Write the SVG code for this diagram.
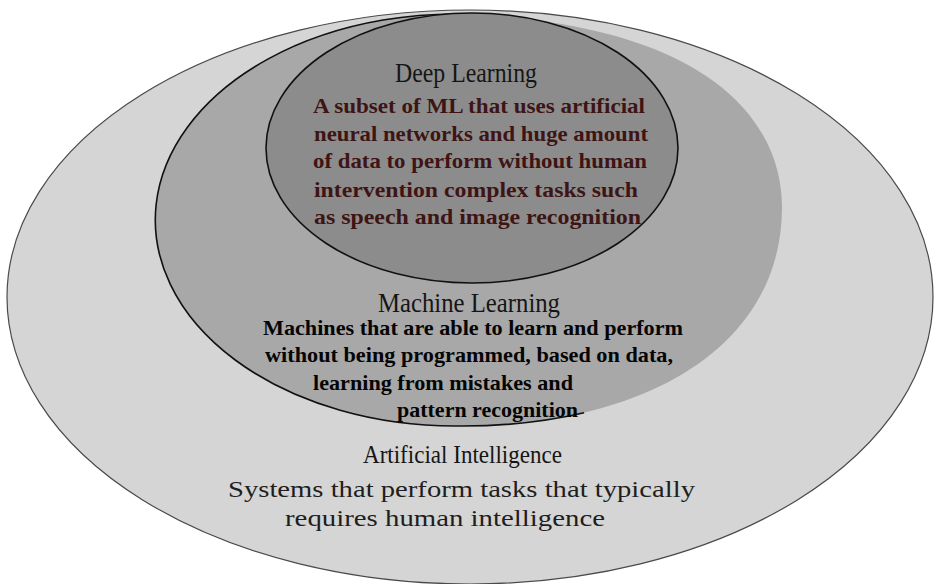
<svg xmlns="http://www.w3.org/2000/svg" width="936" height="584" viewBox="0 0 936 584">
  <style>
    .title { font-family: "Liberation Serif", "Times New Roman", serif; fill: #151515; }
    .dl-body { font-family: "Liberation Serif", "Times New Roman", serif; font-weight: bold; font-size: 22px; fill: #3e1414; }
    .ml-body { font-family: "Liberation Serif", "Times New Roman", serif; font-weight: bold; font-size: 22px; fill: #050505; }
    .ai-body { font-family: "Liberation Serif", "Times New Roman", serif; font-size: 24px; fill: #1e1e1e; }
  </style>
  <rect width="936" height="584" fill="#ffffff"/>

  <!-- Artificial Intelligence: outer ellipse -->
  <g id="ai">
    <ellipse cx="470" cy="297" rx="463" ry="287" fill="#d5d5d5" stroke="#4a4a4a" stroke-width="1.2"/>
    <text class="title" x="363" y="463" font-size="26" textLength="199" lengthAdjust="spacingAndGlyphs">Artificial Intelligence</text>
    <text class="ai-body" x="228" y="497" textLength="467" lengthAdjust="spacingAndGlyphs">Systems that perform tasks that typically</text>
    <text class="ai-body" x="285" y="526" textLength="320" lengthAdjust="spacingAndGlyphs">requires human intelligence</text>
  </g>

  <!-- Machine Learning: shaded region with outline on its left side -->
  <g id="ml">
    <path d="M455,14 A300,206 0 1 0 455,426 C640,428 782,350 782,207 C782,125 715,22 455,14 Z" fill="#a8a8a8"/>
    <path d="M500,16.3 A300,206 0 1 0 455,426 C501.25,426.5 544.8,422 584.1,412.8" fill="none" stroke="#111111" stroke-width="1.6"/>
    <text class="title" x="378" y="312" font-size="28" textLength="182" lengthAdjust="spacingAndGlyphs">Machine Learning</text>
    <text class="ml-body" x="263" y="335" textLength="420" lengthAdjust="spacingAndGlyphs">Machines that are able to learn and perform</text>
    <text class="ml-body" x="265" y="362" textLength="408" lengthAdjust="spacingAndGlyphs">without being programmed, based on data,</text>
    <text class="ml-body" x="313" y="390" textLength="260" lengthAdjust="spacingAndGlyphs">learning from mistakes and</text>
    <text class="ml-body" x="397" y="417" textLength="181" lengthAdjust="spacingAndGlyphs">pattern recognition</text>
  </g>

  <!-- Deep Learning: innermost ellipse -->
  <g id="dl">
    <ellipse cx="472" cy="148" rx="206" ry="135" fill="#8c8c8c" stroke="#111111" stroke-width="1.6"/>
    <text class="title" x="395" y="82" font-size="28" textLength="142" lengthAdjust="spacingAndGlyphs">Deep Learning</text>
    <text class="dl-body" x="313" y="113" textLength="332" lengthAdjust="spacingAndGlyphs">A subset of ML that uses artificial</text>
    <text class="dl-body" x="314" y="141" textLength="334" lengthAdjust="spacingAndGlyphs">neural networks and huge amount</text>
    <text class="dl-body" x="313" y="168" textLength="334" lengthAdjust="spacingAndGlyphs">of data to perform without human</text>
    <text class="dl-body" x="314" y="197" textLength="324" lengthAdjust="spacingAndGlyphs">intervention complex tasks such</text>
    <text class="dl-body" x="314" y="224" textLength="327" lengthAdjust="spacingAndGlyphs">as speech and image recognition</text>
  </g>
</svg>
